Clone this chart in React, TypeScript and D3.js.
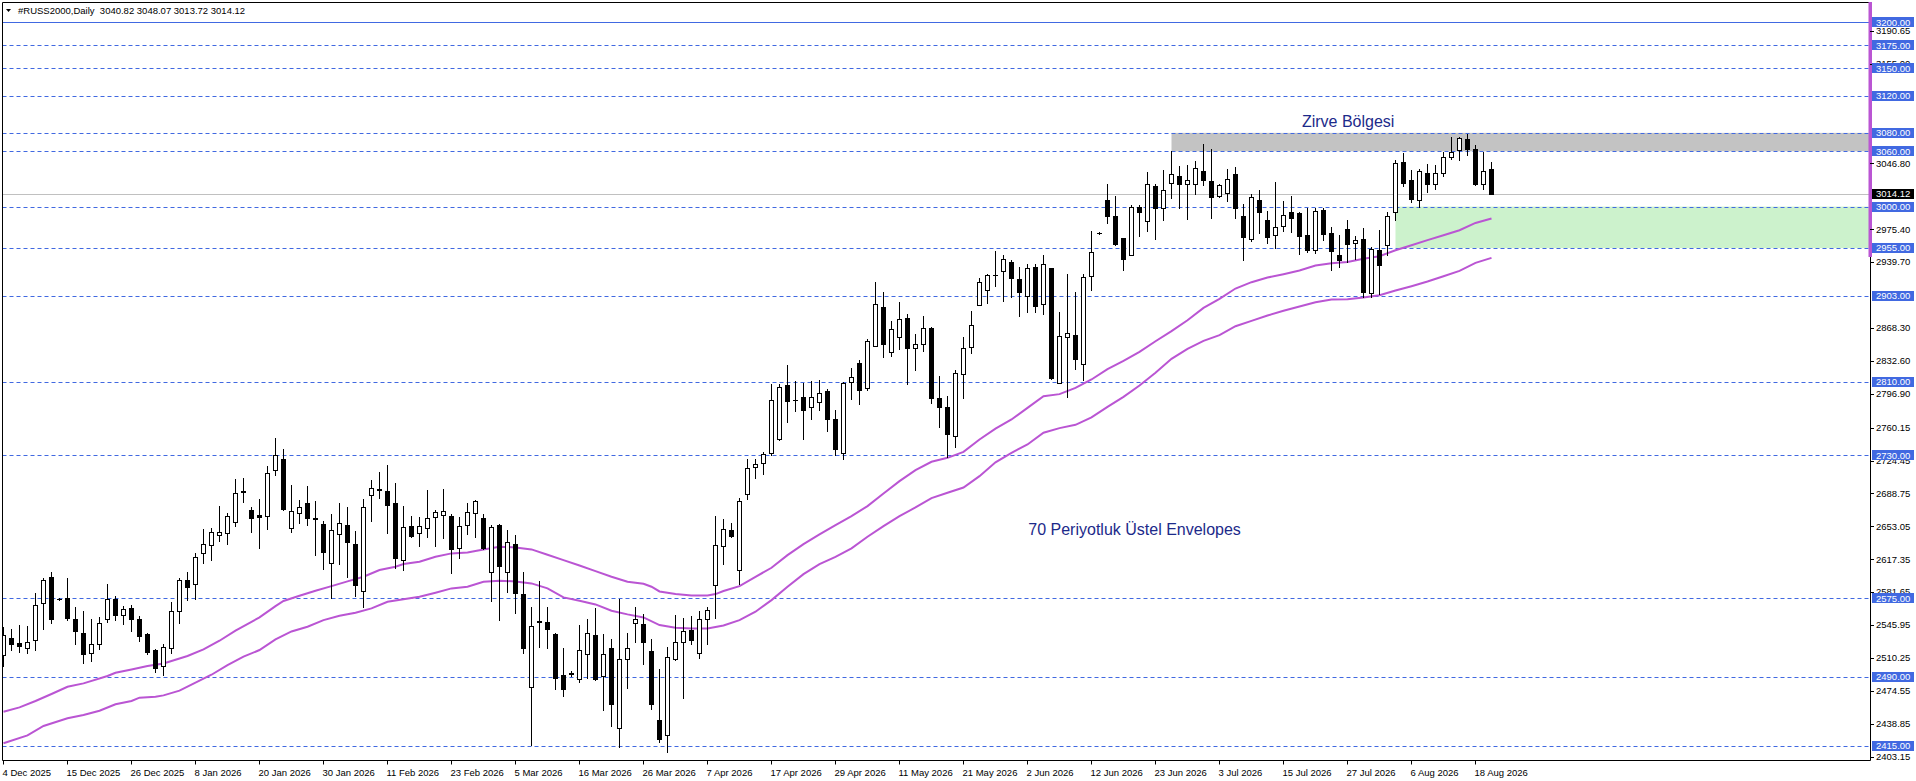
import React from 'react';
import * as d3 from 'd3';

// [open, high, low, close] per daily bar, 4 Dec 2025 .. 20 Aug 2026
const ohlc: [number, number, number, number][] = [
  [2513, 2544, 2502, 2535], [2532, 2542, 2519, 2525], [2526, 2546, 2517, 2523], [2521, 2545, 2516, 2527],
  [2530, 2581, 2519, 2568], [2570, 2597, 2542, 2595], [2598, 2604, 2548, 2553], [2574, 2575, 2573, 2574],
  [2575, 2597, 2551, 2554], [2553, 2565, 2525, 2540], [2537, 2561, 2505, 2515], [2516, 2552, 2507, 2525],
  [2525, 2555, 2520, 2548], [2553, 2590, 2549, 2574], [2574, 2577, 2551, 2557], [2557, 2567, 2547, 2563],
  [2564, 2568, 2540, 2552], [2553, 2556, 2529, 2534], [2536, 2537, 2515, 2517], [2519, 2520, 2495, 2499],
  [2502, 2525, 2492, 2522], [2521, 2571, 2516, 2561], [2561, 2597, 2548, 2595], [2595, 2603, 2573, 2587],
  [2591, 2624, 2574, 2620], [2624, 2650, 2613, 2634], [2633, 2651, 2616, 2647], [2644, 2675, 2637, 2647],
  [2646, 2668, 2634, 2664], [2658, 2704, 2653, 2689], [2691, 2705, 2679, 2690], [2671, 2674, 2647, 2662],
  [2665, 2683, 2630, 2663], [2664, 2718, 2650, 2711], [2714, 2749, 2709, 2730], [2726, 2737, 2671, 2672],
  [2651, 2698, 2647, 2670], [2667, 2682, 2657, 2674], [2678, 2697, 2654, 2662], [2662, 2680, 2622, 2661],
  [2656, 2659, 2607, 2625], [2613, 2666, 2575, 2649], [2645, 2678, 2612, 2657], [2655, 2674, 2598, 2636],
  [2634, 2648, 2577, 2589], [2583, 2683, 2566, 2674], [2687, 2703, 2659, 2695], [2694, 2712, 2684, 2693],
  [2691, 2720, 2646, 2676], [2678, 2700, 2608, 2619], [2616, 2675, 2606, 2652], [2653, 2664, 2641, 2643],
  [2646, 2663, 2632, 2653], [2651, 2692, 2641, 2662], [2663, 2671, 2632, 2669], [2665, 2694, 2640, 2670],
  [2664, 2666, 2602, 2628], [2630, 2663, 2619, 2653], [2654, 2678, 2645, 2669], [2668, 2682, 2641, 2680],
  [2662, 2666, 2628, 2629], [2603, 2654, 2572, 2652], [2655, 2656, 2551, 2610], [2603, 2649, 2582, 2636],
  [2634, 2644, 2559, 2581], [2580, 2603, 2516, 2521], [2479, 2565, 2416, 2545], [2550, 2594, 2522, 2549],
  [2549, 2566, 2521, 2542], [2536, 2537, 2476, 2489], [2492, 2521, 2469, 2477], [2493, 2496, 2491, 2494],
  [2487, 2546, 2484, 2519], [2514, 2552, 2489, 2537], [2535, 2564, 2486, 2487], [2491, 2536, 2454, 2515],
  [2521, 2531, 2436, 2460], [2434, 2574, 2414, 2509], [2509, 2537, 2478, 2521], [2548, 2565, 2528, 2552],
  [2547, 2558, 2504, 2528], [2518, 2531, 2455, 2460], [2443, 2498, 2419, 2422], [2427, 2522, 2408, 2511],
  [2509, 2557, 2508, 2528], [2527, 2554, 2467, 2540], [2541, 2556, 2525, 2530], [2516, 2561, 2510, 2553],
  [2552, 2565, 2525, 2562], [2589, 2664, 2554, 2633], [2632, 2661, 2612, 2650], [2649, 2657, 2642, 2643],
  [2606, 2684, 2590, 2680], [2688, 2726, 2683, 2716], [2717, 2726, 2706, 2721], [2722, 2734, 2710, 2731],
  [2733, 2807, 2730, 2790], [2748, 2807, 2747, 2804], [2806, 2828, 2766, 2789], [2790, 2811, 2778, 2790],
  [2793, 2809, 2748, 2779], [2782, 2811, 2770, 2793], [2788, 2812, 2779, 2798], [2800, 2802, 2757, 2770],
  [2770, 2779, 2730, 2737], [2733, 2810, 2726, 2809], [2810, 2825, 2791, 2815], [2830, 2834, 2786, 2801],
  [2803, 2856, 2801, 2854], [2849, 2918, 2849, 2894], [2891, 2907, 2837, 2851], [2842, 2876, 2838, 2867],
  [2858, 2896, 2845, 2878], [2879, 2884, 2807, 2847], [2847, 2862, 2823, 2851], [2851, 2881, 2843, 2868],
  [2868, 2869, 2787, 2792], [2792, 2816, 2761, 2782], [2783, 2794, 2728, 2753], [2751, 2823, 2739, 2819],
  [2818, 2858, 2792, 2847], [2848, 2887, 2841, 2872], [2893, 2922, 2893, 2918], [2909, 2927, 2895, 2926],
  [2926, 2952, 2914, 2926], [2930, 2948, 2898, 2943], [2940, 2942, 2902, 2922], [2921, 2934, 2881, 2907],
  [2903, 2938, 2886, 2933], [2934, 2938, 2886, 2892], [2894, 2947, 2884, 2938], [2933, 2933, 2813, 2814],
  [2809, 2886, 2809, 2860], [2859, 2927, 2793, 2863], [2861, 2907, 2824, 2835], [2829, 2927, 2812, 2924],
  [2925, 2973, 2910, 2951], [2971, 2972, 2970, 2971], [3007, 3024, 2982, 2990], [2990, 3012, 2958, 2959],
  [2966, 2966, 2931, 2943], [2948, 3002, 2948, 3000], [3000, 3002, 2968, 2994], [2984, 3038, 2974, 3025],
  [3022, 3025, 2965, 2999], [2999, 3040, 2986, 3018], [3026, 3060, 3009, 3035], [3033, 3044, 2999, 3025],
  [3025, 3045, 2987, 3029], [3025, 3050, 3014, 3042], [3039, 3068, 3023, 3029], [3028, 3062, 2988, 3010],
  [3011, 3025, 3010, 3023], [3015, 3041, 3006, 3030], [3035, 3043, 2988, 2998], [2990, 3003, 2942, 2967],
  [2965, 3014, 2963, 3010], [3007, 3018, 2971, 2994], [2985, 2995, 2961, 2967], [2969, 3027, 2955, 2978],
  [2979, 3006, 2974, 2991], [2994, 3012, 2972, 2988], [2993, 2994, 2949, 2968], [2969, 2999, 2951, 2953],
  [2953, 2999, 2950, 2995], [2996, 2999, 2964, 2970], [2971, 2978, 2931, 2952], [2948, 2969, 2934, 2942],
  [2976, 2985, 2940, 2959], [2961, 2968, 2943, 2964], [2965, 2977, 2902, 2907], [2906, 2956, 2902, 2954],
  [2953, 2975, 2905, 2937], [2958, 2994, 2947, 2990], [2994, 3051, 2986, 3047], [3048, 3058, 3022, 3026],
  [3029, 3040, 3005, 3008], [3007, 3041, 3000, 3039], [3037, 3046, 3016, 3024], [3025, 3045, 3019, 3036],
  [3036, 3059, 3033, 3054], [3054, 3076, 3052, 3059], [3061, 3076, 3051, 3074], [3073, 3079, 3056, 3063],
  [3063, 3067, 3023, 3024], [3025, 3059, 3019, 3039], [3040.82, 3048.07, 3013.72, 3014.12],
];

// Date labels, one every 8 bars starting at bar 0
const dateLabels = [
  '4 Dec 2025', '15 Dec 2025', '26 Dec 2025', '8 Jan 2026', '20 Jan 2026', '30 Jan 2026',
  '11 Feb 2026', '23 Feb 2026', '5 Mar 2026', '16 Mar 2026', '26 Mar 2026', '7 Apr 2026',
  '17 Apr 2026', '29 Apr 2026', '11 May 2026', '21 May 2026', '2 Jun 2026', '12 Jun 2026',
  '23 Jun 2026', '3 Jul 2026', '15 Jul 2026', '27 Jul 2026', '6 Aug 2026', '18 Aug 2026',
];
const dateStep = 8;

const priceTicks = [
  3190.65, 3155.0, 3046.8, 2975.4, 2939.7, 2868.3, 2832.6, 2796.9, 2760.15, 2724.45, 2688.75,
  2653.05, 2617.35, 2581.65, 2545.95, 2510.25, 2474.55, 2438.85, 2403.15,
];

const solidLevels = [3200];
const dashedLevels = [3175, 3150, 3120, 3080, 3060, 3000, 2955, 2903, 2810, 2730, 2575, 2490, 2415];
const bidPrice = 3014.12;

// Zones: start bar, low, high
const zoneStart = [146, 174];
const zoneLow = [3060, 2955];
const zoneHigh = [3080, 3000];

// 70-period exponential envelopes
const upperIdx = [0, 2, 4, 6, 8, 10, 13, 14, 16, 18, 20, 23, 25, 27, 29, 31, 32, 34, 35, 37, 39, 41, 43, 45, 47, 49, 50, 52, 54, 56, 58, 60, 62, 64, 66, 68, 70, 72, 74, 76, 78, 80, 81, 82, 84, 86, 88, 89, 90, 92, 94, 96, 98, 100, 102, 104, 106, 108, 110, 112, 114, 116, 118, 120, 122, 124, 126, 128, 130, 132, 134, 136, 138, 140, 142, 144, 146, 148, 150, 152, 154, 156, 158, 160, 162, 164, 166, 168, 170, 172, 174, 176, 178, 180, 182, 184, 186];
const upperVals = [2451.9, 2456.6, 2463.5, 2471.1, 2479.0, 2482.6, 2490.6, 2494.2, 2497.8, 2501.4, 2504.3, 2512.3, 2519.5, 2528.9, 2539.8, 2549.5, 2554.2, 2566.5, 2572.0, 2577.7, 2583.2, 2588.2, 2593.3, 2598.3, 2605.6, 2609.2, 2612.1, 2614.6, 2620.1, 2623.7, 2624.7, 2628.0, 2630.9, 2630.2, 2628.0, 2622.2, 2616.4, 2610.6, 2604.5, 2598.3, 2592.9, 2590.7, 2587.5, 2582.4, 2579.5, 2578.1, 2578.1, 2579.5, 2582.8, 2588.2, 2598.3, 2608.1, 2621.8, 2633.8, 2644.3, 2654.4, 2664.1, 2675.0, 2688.7, 2702.1, 2714.0, 2723.1, 2727.4, 2733.9, 2747.3, 2759.0, 2769.0, 2781.6, 2794.3, 2796.5, 2803.3, 2812.4, 2823.6, 2832.6, 2842.4, 2853.9, 2864.8, 2876.7, 2890.1, 2899.9, 2911.1, 2918.0, 2923.0, 2926.7, 2930.6, 2936.0, 2938.6, 2940.0, 2943.3, 2946.2, 2952.7, 2958.1, 2963.6, 2969.0, 2974.4, 2982.3, 2987.0];
const lowerIdx = [0, 3, 5, 8, 10, 12, 14, 16, 17, 19, 20, 22, 24, 26, 28, 30, 32, 34, 36, 38, 40, 42, 44, 46, 48, 50, 52, 54, 56, 58, 60, 62, 64, 66, 68, 70, 72, 74, 76, 78, 80, 82, 84, 86, 88, 90, 92, 94, 96, 98, 100, 102, 104, 106, 108, 110, 112, 114, 116, 118, 120, 122, 124, 126, 128, 130, 132, 134, 136, 138, 140, 142, 144, 146, 148, 150, 152, 154, 156, 158, 160, 162, 164, 166, 168, 170, 172, 174, 176, 178, 180, 182, 184, 186];
const lowerVals = [2417.6, 2426.2, 2436.4, 2444.7, 2448.3, 2453.0, 2459.9, 2463.5, 2467.1, 2468.2, 2469.6, 2474.7, 2483.4, 2492.0, 2502.5, 2511.6, 2518.8, 2530.4, 2539.0, 2544.1, 2551.3, 2556.0, 2559.3, 2564.0, 2571.2, 2573.8, 2576.7, 2581.0, 2585.7, 2587.5, 2592.9, 2594.0, 2593.3, 2591.1, 2585.7, 2575.9, 2572.3, 2568.3, 2561.5, 2557.5, 2554.2, 2545.9, 2543.0, 2542.3, 2542.3, 2545.5, 2551.3, 2560.4, 2573.0, 2587.5, 2601.2, 2612.1, 2620.0, 2629.1, 2641.7, 2653.3, 2664.1, 2673.5, 2683.7, 2689.5, 2695.2, 2707.5, 2722.5, 2732.8, 2741.9, 2754.6, 2759.6, 2763.2, 2771.2, 2782.7, 2793.6, 2805.9, 2819.6, 2834.8, 2845.6, 2854.3, 2860.5, 2870.2, 2876.0, 2881.8, 2886.9, 2891.6, 2896.3, 2899.2, 2899.5, 2901.3, 2903.9, 2908.9, 2913.6, 2918.7, 2924.5, 2930.3, 2938.9, 2944.4];

const title = '#RUSS2000,Daily  3040.82 3048.07 3013.72 3014.12';
const zoneLabel = { text: 'Zirve Bölgesi', bar: 162.3, price: 3086.4 };
const envLabel = { text: '70 Periyotluk Üstel Envelopes', bar: 128.1, price: 2643.7 };

const FONT = "'Liberation Sans', Arial, sans-serif";
const BLUE = '#4169E1';
const ENV = '#BA55D3';

export default function App() {
  const W = 1916;
  const H = 781;
  const left = 2.5;
  const top = 2.5;
  const right = 1870.5;
  const bottom = 760.5;

  const n = ohlc.length;
  const x = d3.scaleLinear().domain([0, n - 1]).range([3.5, 3.5 + 8 * (n - 1)]);
  const y = d3.scaleLinear().domain([2415, 3200]).range([745.7, 22.3]);
  const py = (p: number) => Math.round(y(p)) + 0.5;

  const upperLine = d3
    .line<number>()
    .x((_, i) => x(upperIdx[i]))
    .y((v) => y(v))(upperVals) as string;
  const lowerLine = d3
    .line<number>()
    .x((_, i) => x(lowerIdx[i]))
    .y((v) => y(v))(lowerVals) as string;

  return (
    <div style={{ position: 'absolute', left: 0, top: 0, width: W, height: H, background: '#fff' }}>
      <svg width={W} height={H} style={{ display: 'block' }} fontFamily={FONT}>
        <defs>
          <clipPath id="plot">
            <rect x={3} y={3} width={right - 3.5} height={bottom - 3.5} />
          </clipPath>
        </defs>
        <rect x={0} y={0} width={W} height={H} fill="#fff" />

        <g clipPath="url(#plot)">
          {zoneStart.map((s, i) => (
            <rect
              key={'z' + i}
              x={x(s)}
              y={y(zoneHigh[i])}
              width={right - x(s)}
              height={y(zoneLow[i]) - y(zoneHigh[i])}
              fill={i === 0 ? '#c3c3c3' : '#ccf2cc'}
            />
          ))}
          {solidLevels.map((p) => (
            <line key={'s' + p} x1={left} x2={right} y1={py(p)} y2={py(p)} stroke={BLUE} strokeWidth={1} />
          ))}
          {dashedLevels.map((p) => (
            <line
              key={'d' + p}
              x1={left}
              x2={right}
              y1={py(p)}
              y2={py(p)}
              stroke={BLUE}
              strokeWidth={1}
              strokeDasharray="4,3"
            />
          ))}
          <line x1={left} x2={right} y1={py(bidPrice)} y2={py(bidPrice)} stroke="#c0c0c0" strokeWidth={1} />

          <path d={upperLine} fill="none" stroke={ENV} strokeWidth={2} />
          <path d={lowerLine} fill="none" stroke={ENV} strokeWidth={2} />

          {ohlc.map(([o, h, l, c], i) => {
            const cx = x(i);
            const bull = c >= o;
            const t = Math.round(y(Math.max(o, c)));
            const b = Math.round(y(Math.min(o, c)));
            return (
              <g key={'c' + i}>
                <line x1={cx} x2={cx} y1={Math.round(y(h))} y2={Math.round(y(l)) + 1} stroke="#000" strokeWidth={1} />
                {b - t < 1 ? (
                  <line x1={cx - 2.5} x2={cx + 2.5} y1={t + 0.5} y2={t + 0.5} stroke="#000" strokeWidth={1} />
                ) : (
                  <rect
                    x={cx - 2}
                    y={t + 0.5}
                    width={4}
                    height={b - t}
                    fill={bull ? '#fff' : '#000'}
                    stroke="#000"
                    strokeWidth={1}
                  />
                )}
              </g>
            );
          })}

          <text x={x(zoneLabel.bar)} y={y(zoneLabel.price)} fontSize={16} fill="#1c2a8a">
            {zoneLabel.text}
          </text>
          <text x={x(envLabel.bar)} y={y(envLabel.price)} fontSize={16} fill="#1c2a8a">
            {envLabel.text}
          </text>
        </g>

        {/* frame */}
        <line x1={left} x2={right} y1={top} y2={top} stroke="#000" />
        <line x1={left} x2={left} y1={top} y2={bottom} stroke="#000" />
        <line x1={left} x2={right} y1={bottom} y2={bottom} stroke="#000" />
        <line x1={1870.5} x2={1870.5} y1={top} y2={bottom} stroke="#000" />
        <rect x={1868.5} y={2} width={3.5} height={255} fill={ENV} />

        {/* title */}
        <path d="M6,9 L11,9 L8.5,12 Z" fill="#000" />
        <text x={18} y={13.5} fontSize={9.5} fill="#000" style={{ whiteSpace: 'pre' }}>
          {title}
        </text>

        {/* price axis */}
        {priceTicks.map((p) => (
          <g key={'t' + p}>
            <line x1={1870} x2={1874} y1={py(p)} y2={py(p)} stroke="#000" />
            <text x={1876} y={y(p)} dy="0.35em" fontSize={9.5} fill="#000">
              {p.toFixed(2)}
            </text>
          </g>
        ))}
        {[...solidLevels, ...dashedLevels].map((p) => (
          <g key={'b' + p}>
            <rect x={1872} y={Math.round(y(p)) - 5} width={42} height={10} fill={BLUE} />
            <text x={1876} y={y(p)} dy="0.35em" fontSize={9.5} fill="#fff">
              {p.toFixed(2)}
            </text>
          </g>
        ))}
        <rect x={1872} y={Math.round(y(bidPrice)) - 5} width={42} height={10} fill="#000" />
        <text x={1876} y={y(bidPrice)} dy="0.35em" fontSize={9.5} fill="#fff">
          {bidPrice.toFixed(2)}
        </text>

        {/* time axis */}
        {dateLabels.map((lab, k) => {
          const tx = x(k * dateStep);
          return (
            <g key={'x' + k}>
              <line x1={tx} x2={tx} y1={bottom} y2={bottom + 4} stroke="#000" />
              <text x={tx - 1} y={776} fontSize={9.5} fill="#000">
                {lab}
              </text>
            </g>
          );
        })}
      </svg>
    </div>
  );
}
